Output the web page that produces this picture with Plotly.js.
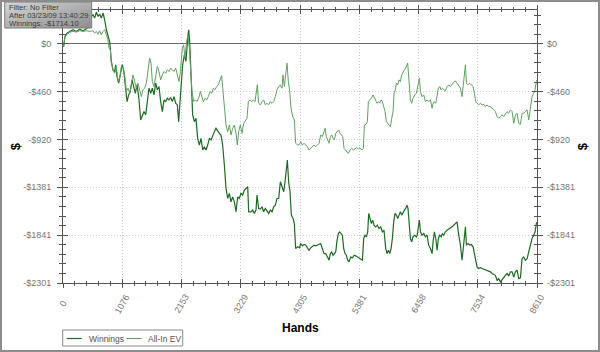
<!DOCTYPE html>
<html><head><meta charset="utf-8">
<script src="https://cdn.plot.ly/plotly-3.0.1.min.js"></script>
<style>
html,body{margin:0;padding:0;background:#fff}
#wrap{position:relative;width:600px;height:352px}
#chart{width:600px;height:352px}
#frame{position:absolute;left:0;top:0;width:600px;height:352px;box-sizing:border-box;border:2px solid #8c8c8c;pointer-events:none}
</style>
</head><body>
<div id="wrap"><div id="chart"></div><div id="frame"></div></div>
<script>
// ---- data ----
const handsW = [0,12,36,73,121,182,242,303,363,424,472,515,545,575,606,636,666,696,727,757,787,817,848,878,908,939,957,981,1011,1041,1072,1102,1132,1163,1193,1223,1254,1284,1314,1344,1375,1411,1441,1471,1502,1532,1562,1593,1623,1653,1684,1714,1744,1774,1805,1835,1865,1895,1926,1956,1986,2016,2047,2077,2101,2113,2144,2174,2204,2234,2265,2283,2301,2325,2355,2386,2416,2446,2477,2507,2537,2567,2598,2628,2658,2689,2719,2749,2779,2810,2840,2870,2900,2931,2961,2991,3022,3052,3082,3112,3143,3173,3203,3233,3264,3294,3324,3355,3373,3415,3445,3476,3506,3524,3554,3585,3615,3645,3675,3706,3736,3766,3797,3827,3857,3887,3918,3948,3978,4009,4033,4057,4075,4099,4124,4148,4178,4202,4226,4263,4299,4318,4348,4378,4409,4439,4469,4499,4530,4560,4590,4621,4651,4681,4711,4742,4772,4802,4833,4857,4881,4905,4929,4954,4978,5002,5026,5050,5075,5099,5123,5147,5172,5196,5226,5256,5287,5317,5347,5377,5408,5438,5462,5486,5511,5535,5553,5577,5601,5626,5650,5680,5710,5741,5771,5801,5831,5862,5886,5910,5935,5959,5983,6007,6031,6056,6080,6104,6128,6153,6177,6201,6225,6249,6267,6286,6310,6334,6358,6389,6419,6432,6456,6474,6492,6522,6553,6583,6613,6643,6674,6704,6722,6746,6771,6795,6819,6843,6868,6892,6916,6946,6977,7007,7037,7067,7098,7128,7158,7188,7219,7249,7279,7310,7328,7358,7388,7418,7449,7473,7497,7521,7552,7582,7612,7643,7673,7703,7733,7764,7794,7824,7854,7885,7915,7945,7976,8006,8036,8066,8097,8127,8157,8188,8218,8248,8278,8309,8339,8369,8399,8430,8460,8490,8520,8551,8575,8599,8610];
const winnings = [0,-26,71,103,119,135,119,141,125,145,183,263,280,247,305,263,286,247,296,231,135,71,22,-170,-251,-267,-202,-315,-379,-299,-202,-251,-395,-556,-492,-459,-347,-427,-476,-395,-508,-733,-684,-652,-684,-524,-427,-476,-427,-492,-379,-443,-411,-556,-652,-540,-556,-524,-540,-517,-556,-508,-572,-588,-749,-652,-427,-202,-106,-170,55,135,22,-363,-684,-749,-717,-909,-974,-909,-1022,-990,-1022,-974,-909,-925,-877,-845,-813,-845,-861,-877,-974,-1166,-1391,-1488,-1439,-1520,-1472,-1520,-1616,-1472,-1488,-1439,-1455,-1407,-1391,-1375,-1616,-1616,-1600,-1632,-1600,-1455,-1584,-1590,-1568,-1616,-1584,-1616,-1632,-1600,-1616,-1568,-1552,-1488,-1488,-1327,-1375,-1423,-1327,-1231,-1118,-1327,-1423,-1648,-1680,-1729,-1970,-1953,-1963,-1921,-1944,-1931,-1937,-1963,-1986,-1963,-1953,-1937,-1944,-1937,-1931,-1921,-1970,-2018,-2018,-2050,-2082,-2018,-2002,-2034,-2018,-2002,-1889,-1825,-1809,-1825,-1841,-1970,-2018,-2034,-2082,-2098,-2050,-2060,-2034,-2040,-2050,-2060,-2072,-2082,-1873,-1841,-1857,-1809,-1632,-1680,-1729,-1696,-1745,-1761,-1745,-1777,-1761,-1809,-1793,-1970,-2018,-1986,-2018,-1970,-1873,-1713,-1632,-1648,-1680,-1648,-1616,-1648,-1616,-1600,-1584,-1552,-1584,-1713,-1873,-1905,-1857,-1841,-1857,-1841,-1745,-1696,-1809,-1841,-1825,-1857,-1841,-1937,-1970,-2018,-1905,-1809,-1873,-1986,-1873,-1841,-1857,-1825,-1841,-1809,-1793,-1783,-1777,-1761,-1745,-1729,-1713,-1841,-1937,-2082,-1937,-1761,-1937,-1921,-1937,-1931,-1953,-2018,-2082,-2146,-2162,-2153,-2162,-2169,-2178,-2178,-2188,-2194,-2210,-2220,-2227,-2275,-2259,-2291,-2265,-2252,-2227,-2210,-2233,-2194,-2194,-2243,-2194,-2178,-2259,-2252,-2066,-2050,-2082,-2066,-2002,-1921,-1873,-1841,-1809,-1729,-1714.1];

const handsEV = [0,12,36,73,121,182,242,303,363,424,484,545,575,606,636,666,696,727,757,787,817,836,860,878,908,939,969,999,1029,1060,1090,1120,1150,1181,1211,1241,1272,1302,1332,1362,1393,1423,1453,1483,1514,1544,1574,1599,1623,1653,1684,1714,1744,1774,1805,1835,1865,1895,1926,1956,1986,2016,2047,2077,2107,2131,2168,2192,2216,2246,2271,2295,2325,2343,2374,2404,2434,2464,2495,2519,2549,2579,2610,2640,2670,2701,2731,2761,2791,2822,2852,2882,2907,2931,2961,2991,3022,3052,3082,3112,3143,3167,3191,3221,3252,3282,3312,3342,3367,3397,3427,3458,3488,3512,3530,3554,3585,3615,3645,3675,3706,3736,3766,3797,3827,3857,3887,3918,3948,3978,3996,4021,4045,4069,4093,4118,4142,4172,4202,4226,4263,4299,4318,4348,4378,4409,4439,4469,4499,4530,4560,4590,4621,4651,4681,4711,4742,4760,4784,4808,4833,4857,4881,4905,4929,4954,4984,5008,5032,5057,5081,5105,5135,5166,5184,5214,5244,5275,5305,5335,5365,5396,5426,5456,5474,5505,5529,5547,5571,5601,5632,5656,5680,5704,5729,5753,5777,5801,5825,5850,5874,5898,5922,5947,5971,5995,6013,6037,6056,6080,6104,6128,6153,6177,6201,6225,6243,6261,6286,6310,6334,6358,6389,6419,6456,6474,6492,6522,6553,6583,6613,6643,6674,6704,6722,6746,6771,6795,6819,6843,6868,6892,6916,6946,6977,7007,7037,7067,7098,7128,7158,7188,7219,7249,7279,7310,7328,7358,7388,7418,7449,7473,7497,7521,7552,7582,7612,7643,7673,7703,7733,7764,7794,7824,7854,7885,7915,7945,7976,8006,8036,8066,8097,8127,8157,8188,8218,8248,8278,8309,8339,8369,8399,8430,8460,8490,8520,8551,8575,8599,8610];
const allInEV = [0,-26,71,93,112,119,112,125,119,125,119,125,103,119,93,125,87,119,135,87,39,-42,-58,-186,-251,-283,-218,-363,-331,-218,-234,-299,-459,-427,-476,-395,-299,-363,-427,-379,-459,-508,-443,-427,-379,-267,-138,-186,-363,-411,-315,-218,-267,-347,-299,-267,-283,-251,-267,-234,-251,-267,-234,-315,-363,-267,-42,-10,-138,22,87,-42,-267,-459,-556,-540,-556,-524,-459,-508,-556,-524,-540,-508,-459,-476,-427,-443,-411,-395,-347,-305,-459,-620,-781,-845,-781,-877,-813,-781,-861,-974,-845,-781,-861,-765,-733,-717,-556,-540,-556,-540,-556,-459,-395,-572,-588,-556,-540,-588,-572,-588,-556,-572,-556,-508,-443,-411,-395,-427,-299,-411,-267,-186,-363,-459,-620,-700,-733,-957,-974,-967,-941,-974,-957,-974,-990,-1022,-1006,-990,-974,-990,-974,-957,-877,-893,-845,-813,-893,-925,-957,-893,-877,-909,-925,-861,-845,-829,-861,-877,-893,-1006,-1022,-1038,-1054,-1022,-1006,-1022,-1006,-999,-1012,-999,-1022,-1006,-781,-774,-749,-556,-540,-524,-492,-524,-540,-572,-556,-572,-540,-556,-604,-652,-749,-765,-781,-797,-717,-652,-476,-443,-379,-395,-347,-363,-299,-267,-251,-234,-196,-186,-363,-540,-572,-524,-492,-476,-379,-331,-459,-508,-492,-556,-540,-556,-540,-620,-572,-556,-572,-492,-427,-411,-443,-427,-443,-453,-411,-395,-411,-389,-369,-357,-379,-395,-427,-508,-379,-202,-379,-395,-379,-395,-411,-476,-556,-572,-588,-572,-588,-582,-604,-588,-604,-604,-620,-636,-652,-700,-717,-700,-684,-700,-668,-652,-668,-636,-652,-765,-684,-668,-765,-774,-668,-668,-652,-636,-733,-588,-508,-476,-443,-363,-347];

const xTickVals = [0,1076.25,2152.5,3228.75,4305,5381.25,6457.5,7533.75,8610];
const xTickText = ['0','1076','2153','3229','4305','5381','6458','7534','8610'];
const yTickVals = [0,-460.2,-920.4,-1380.6,-1840.8,-2301];
const yTickText = ['$0','-$460','-$920','-$1381','-$1841','-$2301'];
const infoLines = ['Filter: No Filter','After 03/23/09 13:40:29','Winnings: -$1714.10'];
const seriesNames = ['Winnings','All-In EV'];
const xTitle = 'Hands';
const yTitle = '$';

// ---- chart ----
const FONT = 'Liberation Sans, Arial, sans-serif';
const AX = '#555555';
const COLORS = ['#1f6a24', '#62a062'];
const xRange = [0, 8610];
const yRange = [-2301, 325];

// pixel helpers for layout decorations (plot area: 474 x 273 px, origin at 63.3,283)
const PX = px => (px - 63.3) / 474;
const PY = py => (283 - py) / 273;

const traces = [
  {x: handsW, y: winnings, name: seriesNames[0], type: 'scatter', mode: 'lines',
   line: {color: COLORS[0], width: 1.2}, showlegend: false},
  {x: handsEV, y: allInEV, name: seriesNames[1], type: 'scatter', mode: 'lines',
   line: {color: COLORS[1], width: 1}, showlegend: false},
  // empty helper traces so the extra tick axes get drawn
  {x: [null], y: [null], xaxis: 'x', yaxis: 'y2', mode: 'lines', showlegend: false, hoverinfo: 'skip'},
  {x: [null], y: [null], xaxis: 'x2', yaxis: 'y3', mode: 'lines', showlegend: false, hoverinfo: 'skip'}
];

const annotations = xTickText.map((t, i) => ({
  x: xTickVals[i], xref: 'x', y: 0, yref: 'paper', yshift: -21,
  text: t, showarrow: false, textangle: -60, xanchor: 'center', yanchor: 'middle',
  font: {family: FONT, size: 9, color: '#777'}
}));
// info box lines
infoLines.forEach((t, i) => annotations.push({
  xref: 'paper', yref: 'paper', x: PX(7), y: PY(7.5 + 8 * i), xanchor: 'left', yanchor: 'middle',
  text: t, showarrow: false, font: {family: FONT, size: 7.6, color: '#3c3c3c'}
}));
// axis titles
annotations.push({xref: 'paper', yref: 'paper', x: 0.5, y: PY(328), xanchor: 'center', yanchor: 'middle',
  text: '<b>' + xTitle + '</b>', showarrow: false, font: {family: FONT, size: 12, color: '#000'}});
annotations.push({xref: 'paper', yref: 'paper', x: PX(16), y: 0.5, xanchor: 'center', yanchor: 'middle',
  text: '<b>' + yTitle + '</b>', textangle: -90, showarrow: false, font: {family: FONT, size: 13, color: '#000'}});
annotations.push({xref: 'paper', yref: 'paper', x: PX(583), y: 0.5, xanchor: 'center', yanchor: 'middle',
  text: '<b>' + yTitle + '</b>', textangle: -90, showarrow: false, font: {family: FONT, size: 13, color: '#000'}});
// legend texts
annotations.push({xref: 'paper', yref: 'paper', x: PX(87), y: PY(338.5), xanchor: 'left', yanchor: 'middle',
  text: seriesNames[0], showarrow: false, font: {family: FONT, size: 8.5, color: '#555'}});
annotations.push({xref: 'paper', yref: 'paper', x: PX(146), y: PY(338.5), xanchor: 'left', yanchor: 'middle',
  text: seriesNames[1], showarrow: false, font: {family: FONT, size: 8.5, color: '#555'}});

const shapes = [
  // info box border
  {type: 'rect', xref: 'paper', yref: 'paper', x0: PX(5), x1: PX(92), y0: PY(2), y1: PY(28),
   line: {color: '#7c7c7c', width: 1}, fillcolor: 'rgba(0,0,0,0)', layer: 'above'},
  // legend box
  {type: 'rect', xref: 'paper', yref: 'paper', x0: PX(63), x1: PX(183), y0: PY(330), y1: PY(346),
   line: {color: '#8a8a8a', width: 1}, fillcolor: '#fff', layer: 'above'},
  {type: 'line', xref: 'paper', yref: 'paper', x0: PX(67), x1: PX(82), y0: PY(338.5), y1: PY(338.5),
   line: {color: COLORS[0], width: 1.2}},
  {type: 'line', xref: 'paper', yref: 'paper', x0: PX(127), x1: PX(142), y0: PY(338.5), y1: PY(338.5),
   line: {color: COLORS[1], width: 1}}
];

const gradSvg = "<svg xmlns='http://www.w3.org/2000/svg' width='87' height='26'><defs><linearGradient id='g' x1='0' y1='0' x2='1' y2='1'><stop offset='0' stop-color='#d6d6d6'/><stop offset='1' stop-color='#8c8c8c'/></linearGradient></defs><rect width='87' height='26' fill='url(#g)'/></svg>";
const images = [{source: 'data:image/svg+xml;charset=utf-8,' + encodeURIComponent(gradSvg),
  xref: 'paper', yref: 'paper', x: PX(5), y: PY(2), sizex: PX(92) - PX(5), sizey: PY(2) - PY(28),
  xanchor: 'left', yanchor: 'top', sizing: 'stretch', layer: 'above'}];

const commonY = {range: yRange, tickmode: 'array', tickvals: yTickVals, ticktext: yTickText, fixedrange: true};
const GRID = '#cdcdcd';
const GRIDDASH = '1px,2px';

const layout = {
  width: 600, height: 352,
  margin: {l: 63, r: 63, t: 10, b: 69},
  paper_bgcolor: '#fff', plot_bgcolor: '#fff',
  showlegend: false,
  xaxis: {range: xRange, tickmode: 'array', tickvals: xTickVals, showticklabels: false,
    ticks: 'outside', ticklen: 4, tickcolor: AX, showline: true, linecolor: AX, mirror: 'ticks',
    showgrid: true, gridcolor: GRID, griddash: GRIDDASH, zeroline: false,
    minor: {ticks: 'outside', ticklen: 2, tick0: 0, dtick: 215.25, tickcolor: AX, showgrid: false}},
  xaxis2: {overlaying: 'x', anchor: 'y', range: xRange, tickmode: 'array', tickvals: xTickVals,
    showticklabels: false, ticks: 'inside', ticklen: 4, tickcolor: AX, showline: true, linecolor: AX, mirror: 'ticks',
    showgrid: false, zeroline: false,
    minor: {ticks: 'inside', ticklen: 2, tick0: 0, dtick: 215.25, tickcolor: AX, showgrid: false}},
  yaxis: Object.assign({}, commonY, {
    ticks: 'outside', ticklen: 5, tickcolor: AX, showline: true, linecolor: AX, mirror: 'ticks',
    showgrid: true, gridcolor: GRID, griddash: GRIDDASH,
    zeroline: true, zerolinecolor: '#6a6a6a', zerolinewidth: 1,
    tickfont: {family: FONT, size: 9, color: '#777'}, ticklabelstandoff: 4,
    minor: {ticks: 'outside', ticklen: 3, tick0: 0, dtick: 92.04, tickcolor: AX, showgrid: false}}),
  yaxis2: Object.assign({}, commonY, {overlaying: 'y', side: 'right', anchor: 'x',
    ticks: '', showline: false, showgrid: false, zeroline: false,
    tickfont: {family: FONT, size: 9, color: '#777'}, ticklabelstandoff: 9}),
  yaxis3: Object.assign({}, commonY, {overlaying: 'y', side: 'left', anchor: 'x',
    ticks: 'inside', ticklen: 5, tickcolor: AX, showline: true, linecolor: AX, mirror: 'ticks',
    showticklabels: false, showgrid: false, zeroline: false,
    minor: {ticks: 'inside', ticklen: 3, tick0: 0, dtick: 92.04, tickcolor: AX, showgrid: false}}),
  annotations: annotations,
  shapes: shapes,
  images: images
};

Plotly.newPlot('chart', traces, layout, {displayModeBar: false, staticPlot: true});
</script>
</body></html>
